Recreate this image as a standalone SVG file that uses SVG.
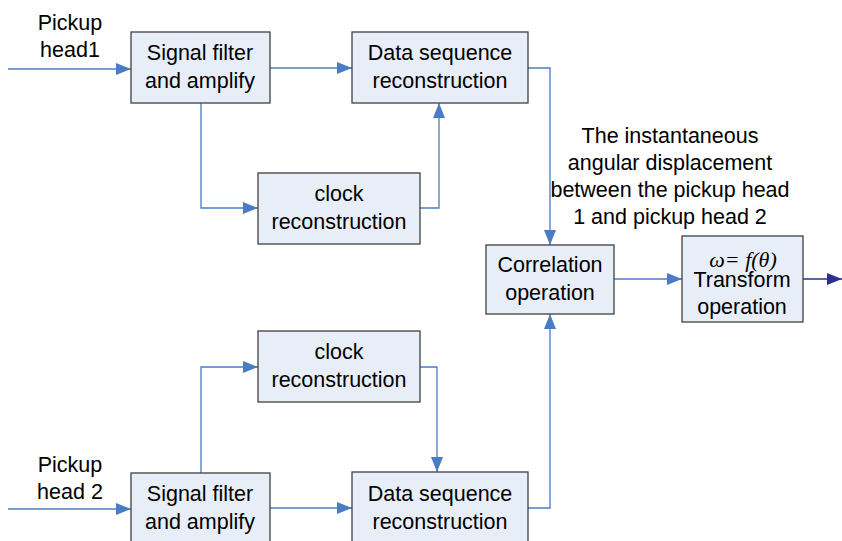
<svg xmlns="http://www.w3.org/2000/svg" width="842" height="541" viewBox="0 0 842 541">
<style>
.box{fill:#E8EEF8;stroke:#3F3F3F;stroke-width:1.3}
.t{font-family:"Liberation Sans",Arial,sans-serif;font-size:21.5px;fill:#000;text-anchor:middle}
.c{fill:none;stroke:#4A7CC4;stroke-width:1.3}
</style>
<defs>
<marker id="a" markerUnits="userSpaceOnUse" markerWidth="16" markerHeight="12" refX="15" refY="6" orient="auto"><path d="M0,0 L15,6 L0,12 Z" fill="#4A7CC4"/></marker>
<marker id="b" markerUnits="userSpaceOnUse" markerWidth="16" markerHeight="12" refX="15" refY="6" orient="auto"><path d="M0,0 L15,6 L0,12 Z" fill="#2B2F8F"/></marker>
</defs>
<rect width="842" height="541" fill="#fff"/>
<g id="connectors">
<path class="c" d="M8,69 H131" marker-end="url(#a)"/>
<path class="c" d="M270,68 H352" marker-end="url(#a)"/>
<path class="c" d="M201,102 V208 H258" marker-end="url(#a)"/>
<path class="c" d="M420,208 H439 V103" marker-end="url(#a)"/>
<path class="c" d="M528,68 H550 V245" marker-end="url(#a)"/>
<path class="c" d="M614,279 H682" marker-end="url(#a)"/>
<path d="M803,279 H842" fill="none" stroke="#2B2F8F" stroke-width="1.5" marker-end="url(#b)"/>
<path class="c" d="M8,509 H131" marker-end="url(#a)"/>
<path class="c" d="M270,508 H352" marker-end="url(#a)"/>
<path class="c" d="M201,473 V367 H258" marker-end="url(#a)"/>
<path class="c" d="M420,367 H437 V472" marker-end="url(#a)"/>
<path class="c" d="M528,508 H550 V314" marker-end="url(#a)"/>
</g>
<g id="label-head1"><text class="t" x="70" y="30">Pickup</text><text class="t" x="70" y="57">head1</text></g>
<g id="label-head2"><text class="t" x="70" y="472">Pickup</text><text class="t" x="70" y="499">head 2</text></g>
<g id="filter1"><rect class="box" x="131" y="32" width="139" height="71"/><text class="t" x="200" y="60">Signal filter</text><text class="t" x="200" y="88">and amplify</text></g>
<g id="data1"><rect class="box" x="352" y="32" width="176" height="71"/><text class="t" x="440" y="60">Data sequence</text><text class="t" x="440" y="88">reconstruction</text></g>
<g id="clock1"><rect class="box" x="258" y="173" width="162" height="71"/><text class="t" x="339" y="201">clock</text><text class="t" x="339" y="229">reconstruction</text></g>
<g id="correlation"><rect class="box" x="486" y="245" width="128" height="69"/><text class="t" x="550" y="272">Correlation</text><text class="t" x="550" y="300">operation</text></g>
<g id="transform"><rect class="box" x="682" y="236" width="121" height="86"/><text x="743" y="267" font-family="'Liberation Serif','Times New Roman',serif" font-style="italic" font-size="22" text-anchor="middle">ω= f(θ)</text><text class="t" x="742" y="287">Transform</text><text class="t" x="742" y="314">operation</text></g>
<g id="note"><text class="t" x="670" y="143">The instantaneous</text><text class="t" x="670" y="170">angular displacement</text><text class="t" x="670" y="197">between the pickup head</text><text class="t" x="670" y="224">1 and pickup head 2</text></g>
<g id="clock2"><rect class="box" x="258" y="331" width="162" height="71"/><text class="t" x="339" y="359">clock</text><text class="t" x="339" y="387">reconstruction</text></g>
<g id="filter2"><rect class="box" x="131" y="473" width="139" height="71"/><text class="t" x="200" y="501">Signal filter</text><text class="t" x="200" y="529">and amplify</text></g>
<g id="data2"><rect class="box" x="352" y="472" width="176" height="71"/><text class="t" x="440" y="501">Data sequence</text><text class="t" x="440" y="529">reconstruction</text></g>
</svg>
